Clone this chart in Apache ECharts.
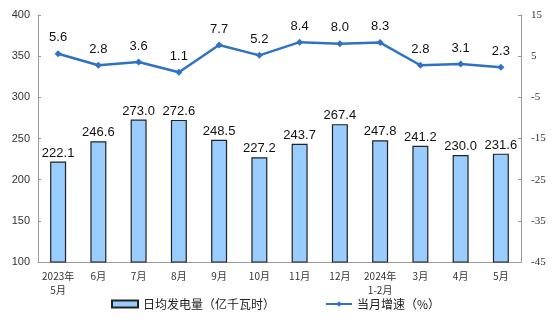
<!DOCTYPE html>
<html>
<head>
<meta charset="utf-8">
<script src="https://cdn.jsdelivr.net/npm/echarts@6/dist/echarts.min.js"></script>
<style>
html,body{margin:0;padding:0;background:#fff;}
#chart{width:552px;height:327px;}
</style>
</head>
<body>
<div id="chart"></div>
<script>
// Monthly categories (May 2023 – May 2024)
const categories = ['2023年\n5月','6月','7月','8月','9月','10月','11月','12月','2024年\n1-2月','3月','4月','5月'];
// Daily average generation (100 million kWh)
const dailyGen = [222.1, 246.6, 273.0, 272.6, 248.5, 227.2, 243.7, 267.4, 247.8, 241.2, 230.0, 231.6];
// Year-on-year growth of the month (%)
const growth = [5.6, 2.8, 3.6, 1.1, 7.7, 5.2, 8.4, 8.0, 8.3, 2.8, 3.1, 2.3];

const chart = echarts.init(document.getElementById('chart'));
const labelFont = {fontFamily: 'Liberation Sans, Arial, sans-serif', fontSize: 13, color: '#111'};
const cjk = 'Noto Sans CJK SC, sans-serif';

chart.setOption({
  animation: false,
  grid: {left: 38, right: 31, top: 15, bottom: 65},
  legend: {
    left: 106, bottom: 12, itemGap: 50, itemWidth: 26, itemHeight: 7,
    textStyle: {fontFamily: cjk, fontSize: 12, color: '#222'},
    data: [
      {name: '日均发电量（亿千瓦时）', icon: 'rect'},
      {name: '当月增速（%）'}
    ]
  },
  xAxis: {
    type: 'category', data: categories,
    axisLine: {onZero: false, lineStyle: {color: '#999'}},
    axisTick: {inside: true, length: 3, lineStyle: {color: '#999'}},
    axisLabel: {fontFamily: cjk, fontSize: 10, color: '#333', lineHeight: 14, margin: 7, interval: 0}
  },
  yAxis: [
    {
      type: 'value', min: 100, max: 400, interval: 50,
      splitLine: {show: false},
      axisLine: {show: true, lineStyle: {color: '#999'}},
      axisTick: {show: true, inside: true, length: 3, lineStyle: {color: '#999'}},
      axisLabel: {fontFamily: 'Liberation Sans, Arial, sans-serif', fontSize: 11, color: '#333', margin: 8}
    },
    {
      type: 'value', min: -45, max: 15, interval: 10,
      splitLine: {show: false},
      axisLine: {show: true, lineStyle: {color: '#999'}},
      axisTick: {show: true, inside: true, length: 3, lineStyle: {color: '#999'}},
      axisLabel: {fontFamily: 'Liberation Serif, Times New Roman, serif', fontSize: 11, color: '#333', margin: 10}
    }
  ],
  series: [
    {
      name: '日均发电量（亿千瓦时）', type: 'bar', data: dailyGen, yAxisIndex: 0,
      barWidth: 16,
      itemStyle: {color: '#99ccff', borderColor: '#222', borderWidth: 1.2},
      label: Object.assign({show: true, position: 'top', distance: 2, formatter: p => p.value.toFixed(1)}, labelFont)
    },
    {
      name: '当月增速（%）', type: 'line', data: growth, yAxisIndex: 1,
      symbol: 'diamond', symbolSize: 7,
      lineStyle: {color: '#2f72c4', width: 2.5},
      itemStyle: {color: '#2f72c4'},
      label: Object.assign({show: true, position: 'top', distance: 6, formatter: p => p.value.toFixed(1)}, labelFont)
    }
  ]
});
</script>
</body>
</html>
